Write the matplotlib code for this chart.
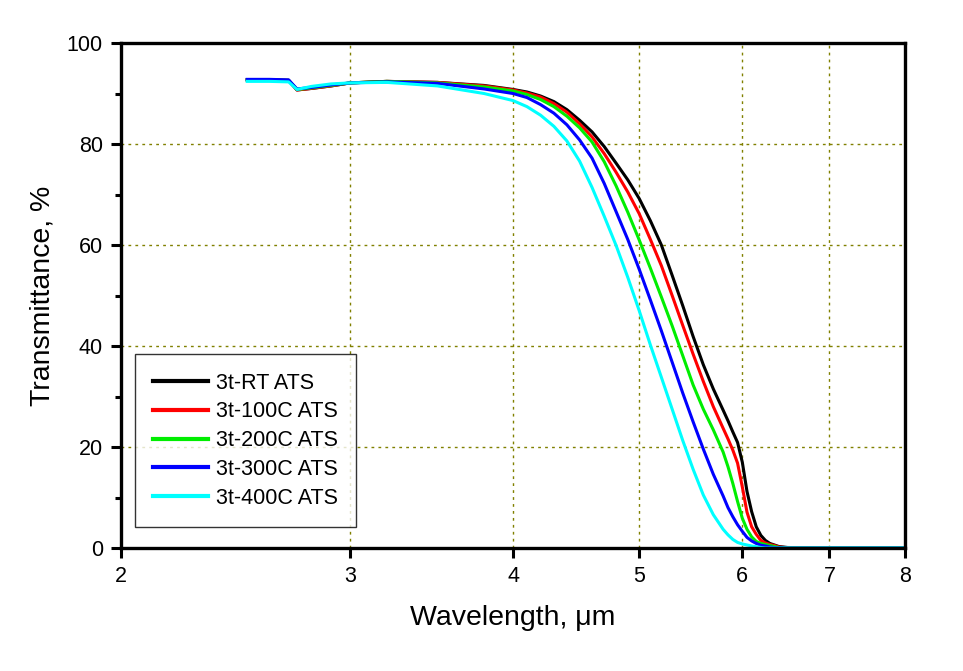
import matplotlib
matplotlib.use("Agg")
import matplotlib.pyplot as plt
from matplotlib.ticker import FixedLocator, NullLocator, FixedFormatter, MultipleLocator

plt.rcParams['font.family'] = ['Liberation Sans', 'DejaVu Sans']

wavelength = [2.5, 2.6, 2.69, 2.73, 2.8, 2.9, 3.0, 3.2, 3.5, 3.8, 4.0, 4.1, 4.2, 4.3,
              4.4, 4.5, 4.6, 4.7, 4.8, 4.9, 5.0, 5.1, 5.2, 5.3, 5.4, 5.5, 5.6, 5.7,
              5.8, 5.85, 5.9, 5.95, 6.0, 6.05, 6.1, 6.15, 6.2, 6.25, 6.3, 6.35, 6.4,
              6.5, 7.0, 8.0]

t_rt  = [92.7, 92.7, 92.6, 90.7, 91.0, 91.5, 92.1, 92.4, 92.2, 91.6, 90.8, 90.3, 89.5, 88.4,
         86.8, 84.7, 82.4, 79.5, 76.2, 72.9, 69.2, 64.8, 60.0, 54.0, 48.0, 41.9, 36.3, 31.5,
         27.3, 25.2, 23.0, 20.9, 17.0, 11.2, 7.2, 4.2, 2.5, 1.5, 0.9, 0.6, 0.3,
         0.1, 0.0, 0.0]
t_100 = [92.7, 92.7, 92.6, 90.7, 91.0, 91.5, 92.1, 92.4, 92.2, 91.5, 90.7, 90.1, 89.3, 88.0,
         86.3, 84.0, 81.4, 78.1, 74.4, 70.5, 66.2, 61.1, 55.9, 50.0, 44.1, 38.4, 33.0, 28.0,
         23.7, 21.6, 19.4, 16.8, 12.1, 7.1, 4.2, 2.7, 1.5, 1.0, 0.7, 0.5, 0.2,
         0.05, 0.0, 0.0]
t_200 = [92.7, 92.7, 92.6, 90.8, 91.1, 91.6, 92.1, 92.4, 92.1, 91.3, 90.5, 89.8, 88.8, 87.4,
         85.5, 83.2, 80.4, 76.5, 71.7, 66.5, 61.0, 55.4, 49.7, 44.0, 38.1, 32.3, 27.5, 23.4,
         19.0, 16.1, 12.8, 9.2, 5.9, 3.7, 2.2, 1.3, 0.9, 0.7, 0.5, 0.3, 0.1,
         0.0, 0.0, 0.0]
t_300 = [92.8, 92.8, 92.7, 90.9, 91.2, 91.7, 92.1, 92.3, 92.0, 90.9, 90.0, 89.2, 87.8, 86.1,
         83.8, 80.8, 77.2, 72.2, 66.6, 61.1, 55.2, 49.1, 43.0, 36.8, 30.7, 25.0, 19.6, 14.6,
         10.3, 8.0, 6.2, 4.6, 3.3, 2.1, 1.4, 0.9, 0.55, 0.4, 0.2, 0.1, 0.05,
         0.0, 0.0, 0.0]
t_400 = [92.4, 92.4, 92.3, 90.8, 91.4, 91.9, 92.1, 92.2, 91.5, 90.0, 88.6, 87.4, 85.7, 83.5,
         80.6, 76.6, 71.4, 65.7, 59.9, 53.6, 47.0, 40.2, 33.8, 27.5, 21.3, 15.6, 10.5, 6.6,
         3.7, 2.6, 1.7, 1.1, 0.8, 0.6, 0.4, 0.25, 0.1, 0.0, 0.0, 0.0, 0.0,
         0.0, 0.0, 0.0]

series = [("3t-RT ATS", t_rt, "#000000"),
          ("3t-100C ATS", t_100, "#ff0000"),
          ("3t-200C ATS", t_200, "#00ee00"),
          ("3t-300C ATS", t_300, "#0000ff"),
          ("3t-400C ATS", t_400, "#00ffff")]

x_ticks = [2, 3, 4, 5, 6, 7, 8]
y_ticks = [0, 20, 40, 60, 80, 100]

fig = plt.figure(figsize=(9.63, 6.71), dpi=100)
ax = fig.add_axes([121/963, 1-548/671, (905-121)/963, (548-43)/671])

for label, vals, color in series:
    ax.plot(wavelength, vals, color=color, lw=2.2, label=label,
            solid_joinstyle='round')

ax.set_xscale('log')
ax.set_xlim(2, 8)
ax.set_ylim(0, 100)
ax.xaxis.set_major_locator(FixedLocator(x_ticks))
ax.xaxis.set_major_formatter(FixedFormatter([str(v) for v in x_ticks]))
ax.xaxis.set_minor_locator(NullLocator())
ax.yaxis.set_major_locator(FixedLocator(y_ticks))
ax.yaxis.set_minor_locator(MultipleLocator(10))

for sp in ax.spines.values():
    sp.set_linewidth(2.4)
ax.tick_params(which='major', direction='out', length=7, width=2.2, labelsize=15.5, pad=6)
ax.tick_params(which='minor', direction='out', length=4, width=2.2)
ax.tick_params(top=False, right=False)

for xv in [3, 4, 5, 6, 7]:
    ax.axvline(xv, color='#808000', lw=1.0, ls=(0, (2, 3)), zorder=0)
for yv in [20, 40, 60, 80]:
    ax.axhline(yv, color='#808000', lw=1.0, ls=(0, (2, 3)), zorder=0)

ax.set_xlabel("Wavelength, \u03bcm", fontsize=20.5, labelpad=13)
ax.set_ylabel("Transmittance, %", fontsize=20.5, labelpad=8)

leg = ax.legend(loc='lower left', bbox_to_anchor=((135-121)/784, (548-527)/505),
                fontsize=15.5, frameon=True, fancybox=False, edgecolor='black',
                handlelength=2.55, handletextpad=0.35, borderpad=0.85, labelspacing=0.36,
                borderaxespad=0)
leg.get_frame().set_linewidth(1.0)
for line in leg.get_lines():
    line.set_linewidth(3)

fig.savefig("out.png", dpi=100, facecolor='white')
